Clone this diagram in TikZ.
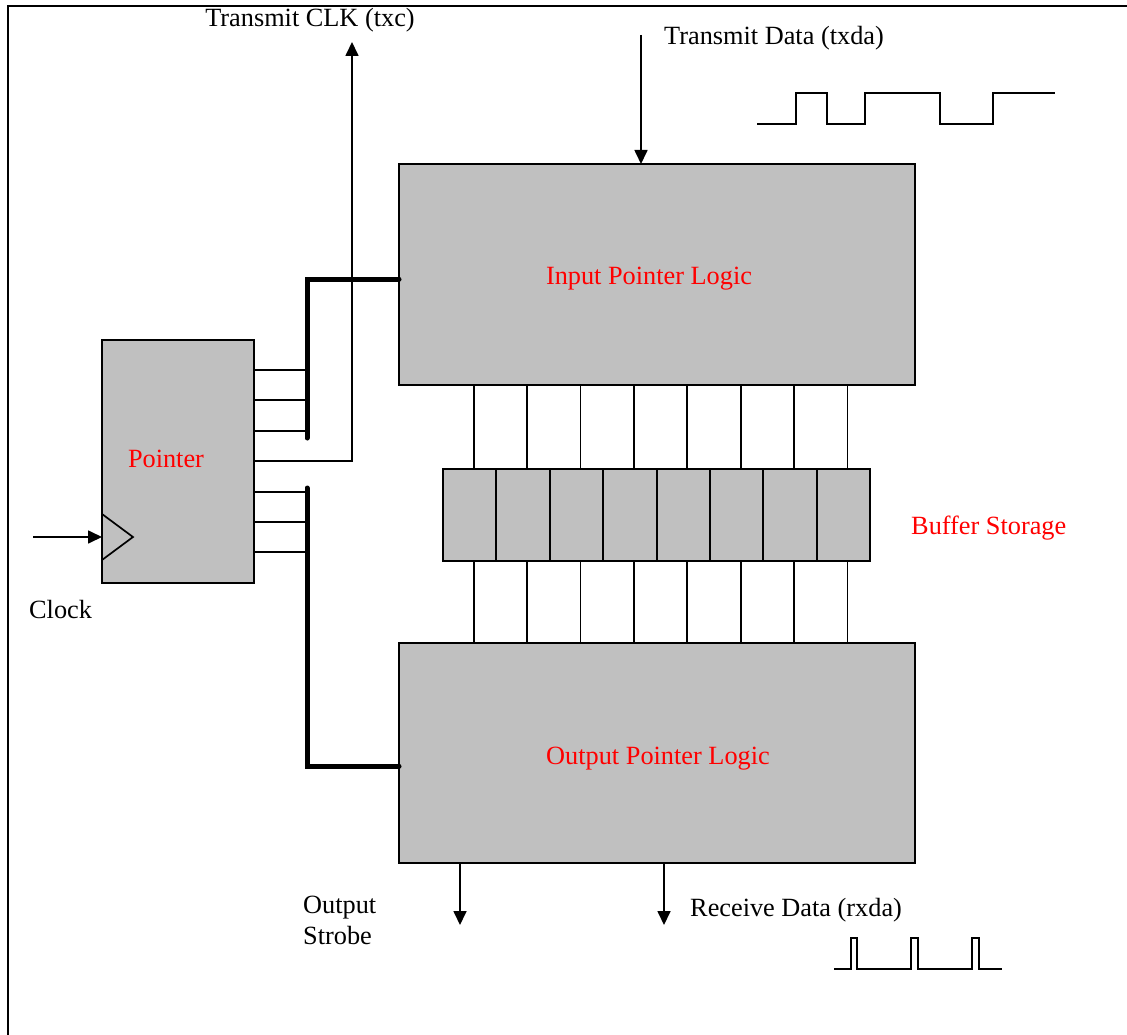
\documentclass[tikz,border=0pt]{standalone}
\usepackage{fontspec}
\setmainfont{Liberation Serif}
\usetikzlibrary{arrows.meta,calc}
\definecolor{boxgray}{HTML}{C0C0C0}
\begin{document}
\begin{tikzpicture}[x=1pt,y=-1pt,
  every node/.style={font=\fontsize{26.3}{30}\selectfont},
  blk/.style={draw=black,line width=2pt,fill=boxgray,inner sep=0pt,outer sep=0pt},
  redlbl/.style={text=red,inner sep=0pt,anchor=base},
  lbl/.style={inner sep=0pt,anchor=base west},
  wire/.style={line width=1.7pt},
  arr/.style={line width=1.7pt,-{Triangle[length=14pt,width=13pt]}},
  bus/.style={line width=5pt,line cap=round,line join=miter},
  wave/.style={line width=1.9pt,line join=miter}]
\useasboundingbox (0,0) rectangle (1127,1035);
% frame
\draw[line width=2.5pt] (8,1035) -- (8,6) -- (1127,6);

% blocks
\node[blk,minimum width=516pt,minimum height=221pt] (inbox) at (657,274.5) {};
\node[blk,minimum width=516pt,minimum height=220pt] (outbox) at (657,753) {};
\node[blk,minimum width=152pt,minimum height=243pt] (ptr) at (178,461) {};
\foreach \i in {1,...,8}{
  \node[blk,minimum width=53.4pt,minimum height=92pt] (c\i) at ({443+26.7+53.4*(\i-1)},515) {};
}

% labels
\node[redlbl] (inlbl) at (649,284) {Input Pointer Logic};
\node[redlbl] (outlbl) at (658,764) {Output Pointer Logic};
\node[redlbl] (ptrlbl) at (166,467) {Pointer};
\node[text=red,inner sep=0pt,anchor=base west] (buflbl) at (911,534) {Buffer Storage};
\node[inner sep=0pt,anchor=base] (txclbl) at (310,27) {Transmit CLK (txc)};
\node[lbl] (txdalbl) at (664,45) {Transmit Data (txda)};
\node[lbl] (clklbl) at (29,618) {Clock};
\node[lbl] (oslbl1) at (303,913) {Output};
\node[lbl] (oslbl2) at (303,944) {Strobe};
\node[lbl] (rxlbl) at (690,916) {Receive Data (rxda)};

% buffer connections
\foreach \i in {1,...,8}{
  \draw[wire] ([xshift=4pt]c\i.north) -- ([xshift=4pt]c\i.north |- inbox.south);
  \draw[wire] ([xshift=4pt]c\i.south) -- ([xshift=4pt]c\i.south |- outbox.north);
}

% clock input
\coordinate (clkin) at (33,537);
\draw[arr] (clkin) -- (clkin -| ptr.west);
\draw[wire] (102,514) -- (133,537) -- (102,560);

% buses
\coordinate (busAtop) at (307,279);
\coordinate (busAbot) at (307,438);
\coordinate (busBtop) at (307,488);
\coordinate (busBbot) at (307,766);
\foreach \yy in {370,400,431}{
  \draw[wire] (ptr.east |- 0,\yy) -- (busAtop |- 0,\yy);
}
\foreach \yy in {492,522,552}{
  \draw[wire] (ptr.east |- 0,\yy) -- (busBtop |- 0,\yy);
}
\coordinate (txcend) at (352,42);
\draw[arr] (ptr.east) -| (txcend);
\draw[bus] (busAbot) -- (busAtop) -- (busAtop -| inbox.west);
\draw[bus] (busBtop) -- (busBbot) -- (busBbot -| outbox.west);

% data arrows
\coordinate (txdastart) at (641,35);
\draw[arr] (txdastart) -- (txdastart |- inbox.north);
\coordinate (osend) at (460,925);
\coordinate (rxend) at (664,925);
\draw[arr] (osend |- outbox.south) -- (osend);
\draw[arr] (rxend |- outbox.south) -- (rxend);

% waveforms
\draw[wave] (757,124) -- (796,124) -- (796,93) -- (827,93) -- (827,124) -- (865,124) -- (865,93) -- (940,93) -- (940,124) -- (993,124) -- (993,93) -- (1055,93);
\draw[wave] (834,969) -- (851,969) -- (851,938) -- (857,938) -- (857,969) -- (911,969) -- (911,938) -- (918,938) -- (918,969) -- (972,969) -- (972,938) -- (979,938) -- (979,969) -- (1002,969);
\end{tikzpicture}
\end{document}
